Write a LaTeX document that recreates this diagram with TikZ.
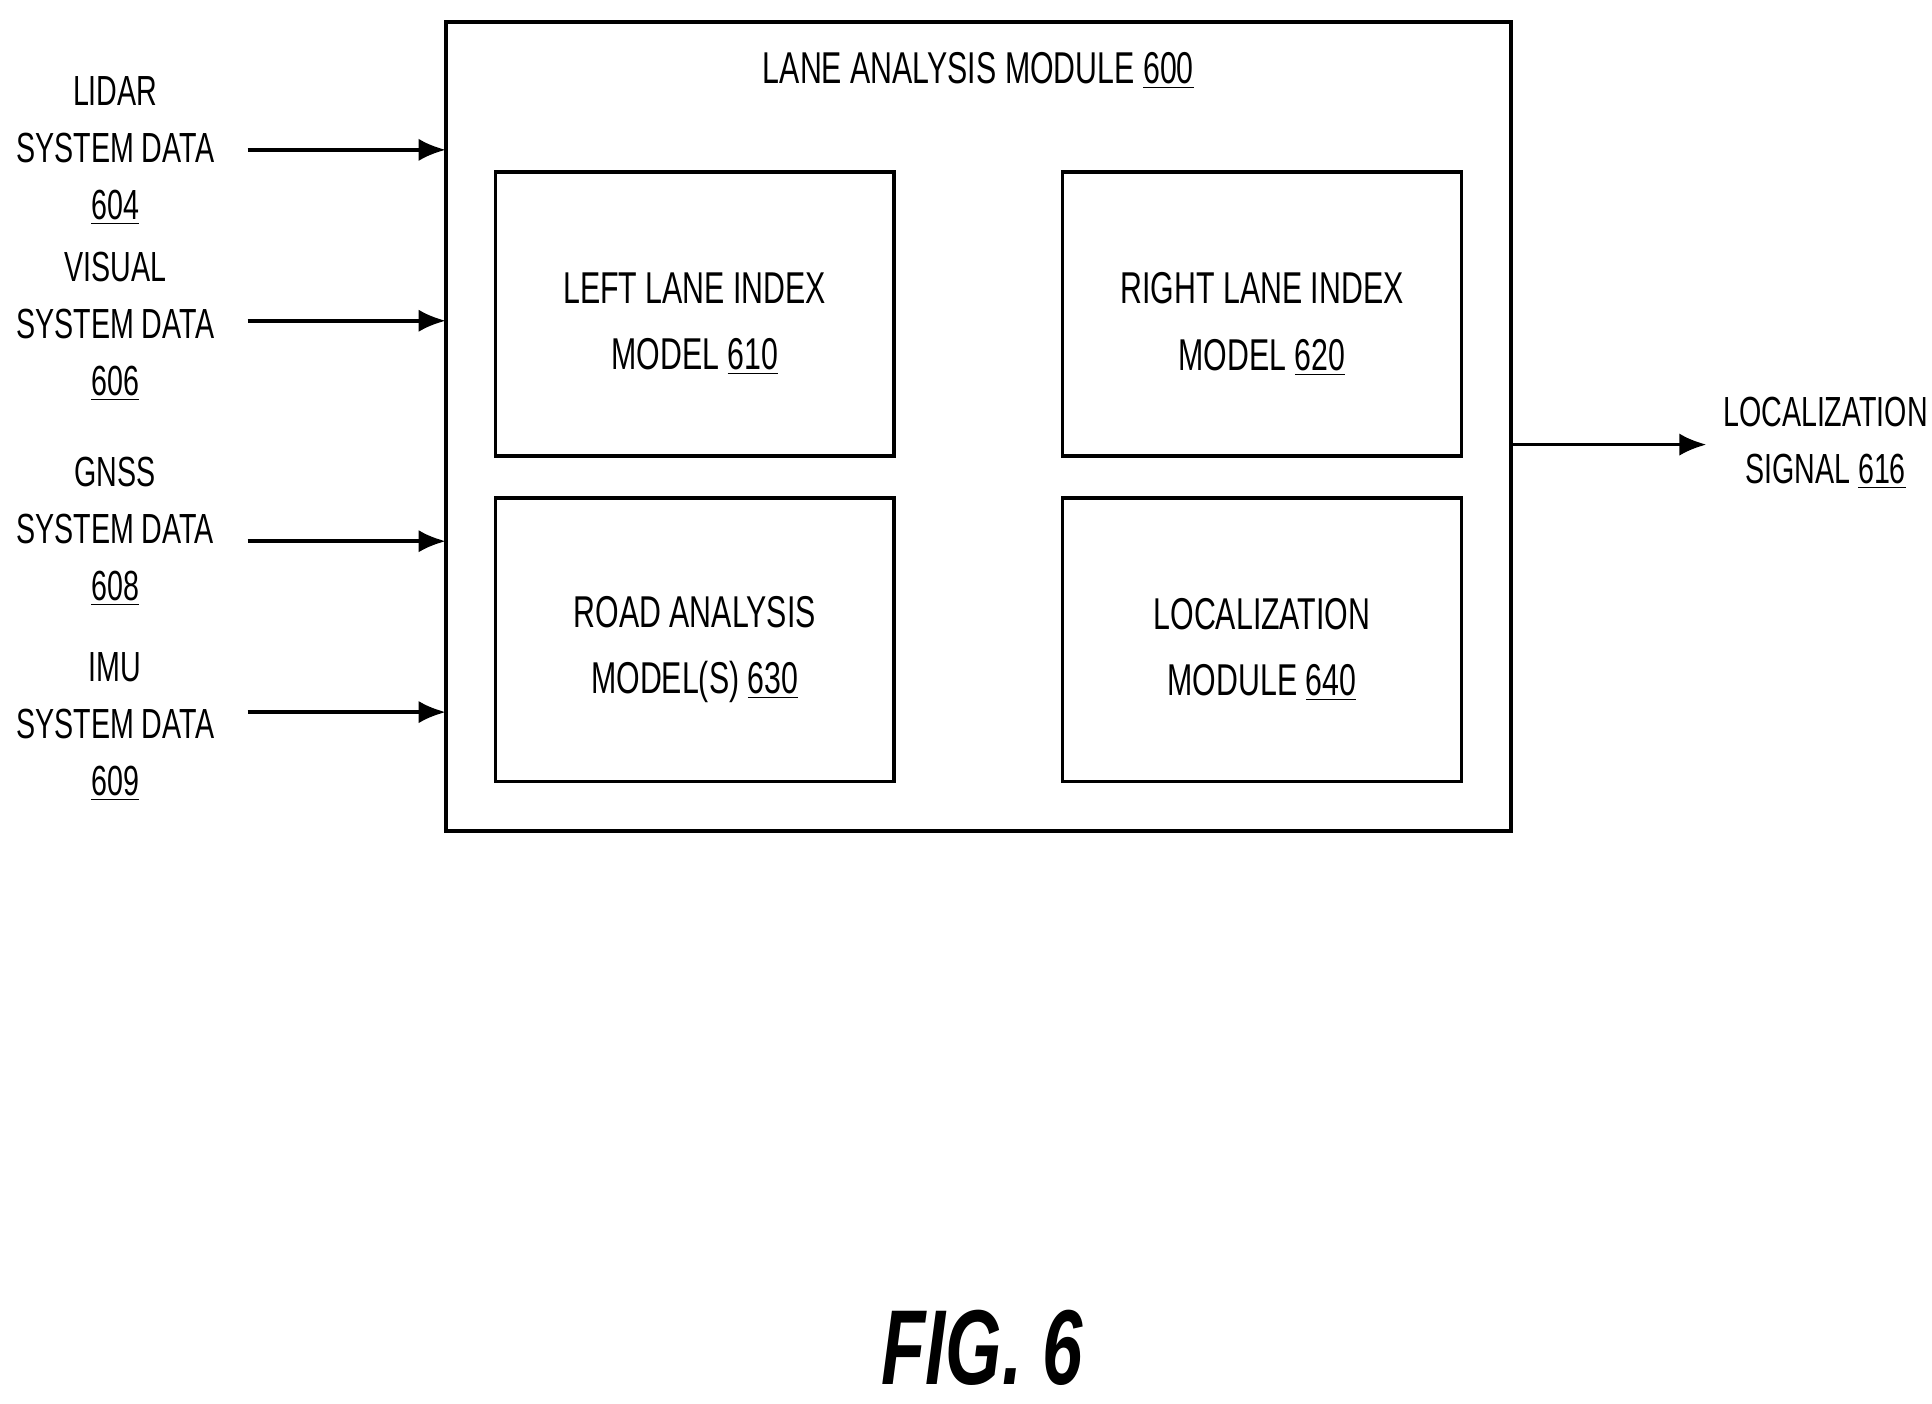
\documentclass[tikz,border=0pt]{standalone}
\usepackage{fontspec}
\setmainfont{Liberation Sans}[FakeStretch=0.68]
\usetikzlibrary{arrows.meta}
\begin{document}
\begin{tikzpicture}[x=0.5pt,y=0.5pt,
  box/.style={draw,line width=1.5pt},
  lbl/.style={align=center,font=\fontsize{17}{23}\selectfont,inner sep=0},
  blbl/.style={align=center,font=\fontsize{18}{27}\selectfont,inner sep=0},
  arr/.style={line width=1.5pt,-{Latex[length=11pt,width=9pt]}}]
\useasboundingbox (0,0) rectangle (1560,-1133);
\draw[box] (360,-18) rectangle (1220,-671);
\node[blbl] (title) at (790,-57) {LANE ANALYSIS MODULE \underline{600}};
\draw[box] (400,-139) rectangle (722,-368) node[blbl,midway,yshift=-4pt] (m610) {LEFT LANE INDEX\\MODEL \underline{610}};
\draw[box] (858,-139) rectangle (1180,-368) node[blbl,midway,yshift=-4pt] (m620) {RIGHT LANE INDEX\\MODEL \underline{620}};
\draw[box] (400,-402) rectangle (722,-631) node[blbl,midway,yshift=-4pt] (m630) {ROAD ANALYSIS\\MODEL(S) \underline{630}};
\draw[box] (858,-402) rectangle (1180,-631) node[blbl,midway,yshift=-4pt] (m640) {LOCALIZATION\\MODULE \underline{640}};
\foreach \n/\y/\t/\num in {a/122/LIDAR/604,b/264/VISUAL/606,c/429/GNSS/608,d/587/IMU/609}{
  \node[lbl] (in\n) at (93,-\y) {\t\\SYSTEM DATA\\\underline{\num}};
}
\foreach \n/\y in {a/121,b/259,c/437,d/575}{
  \coordinate (s\n) at (200,-\y);
  \coordinate (e\n) at (360,-\y);
  \draw[arr] (s\n) -- (e\n);
}
\coordinate (o1) at (1220,-359);
\coordinate (o2) at (1378,-359);
\node[lbl] (out) at (1474,-358) {LOCALIZATION\\SIGNAL \underline{616}};
\draw[arr] (o1) -- (o2);
\node[inner sep=0,font=\fontsize{43}{50}\bfseries\itshape\selectfont] (fig) at (793,-1088) {FIG. 6};
\end{tikzpicture}
\end{document}
